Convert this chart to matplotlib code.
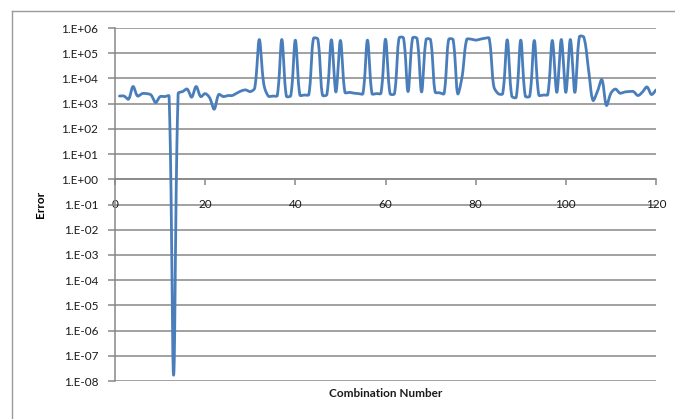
import numpy as np
import matplotlib
matplotlib.use("Agg")
import matplotlib.pyplot as plt
from matplotlib.lines import Line2D

# Error of each combination (combination numbers 1..120)
combination = list(range(1, 121))
error = [
    2000, 2000, 1500, 4800, 2000, 2500, 2500, 2200, 1100, 1900,
    1900, 2000, 1.7e-8, 2500, 3000, 3800, 1800, 4800, 1900, 2500,
    1700, 600, 2300, 1900, 2100, 2100, 2600, 3200, 3500, 3000,
    4200, 3.5e5, 6000, 2000, 2000, 2100, 3.5e5, 2000, 2100, 3.3e5,
    2200, 2200, 2300, 3.8e5, 3.6e5, 2200, 2300, 3.4e5, 2900, 3.2e5,
    2800, 2800, 2600, 2500, 2500, 3.3e5, 2500, 2500, 2600, 3.6e5,
    2500, 2500, 4.0e5, 4.0e5, 3000, 4.0e5, 3.8e5, 2900, 3.5e5, 3.4e5,
    2900, 2700, 2500, 3.5e5, 3.4e5, 2500, 1.2e4, 3.5e5, 3.6e5, 3.3e5,
    3.6e5, 3.9e5, 3.9e5, 5000, 2500, 2500, 3.4e5, 2000, 1800, 3.3e5,
    2000, 2000, 3.2e5, 2200, 2200, 2300, 3.2e5, 2800, 3.5e5, 2800,
    3.5e5, 2800, 4.5e5, 4.3e5, 2.5e4, 1350, 3000, 9000, 850, 2600,
    3800, 2600, 2900, 3000, 3000, 2100, 2900, 4600, 2300, 3500,
]

x_ticks = [0, 20, 40, 60, 80, 100, 120]
y_ticks = [1e-8, 1e-7, 1e-6, 1e-5, 1e-4, 1e-3, 1e-2, 1e-1,
           1e0, 1e1, 1e2, 1e3, 1e4, 1e5, 1e6]
y_tick_labels = ["1.E-08", "1.E-07", "1.E-06", "1.E-05", "1.E-04", "1.E-03",
                 "1.E-02", "1.E-01", "1.E+00", "1.E+01", "1.E+02", "1.E+03",
                 "1.E+04", "1.E+05", "1.E+06"]


def smooth_line(xs, ys, sx=4.5, sy=25.2, n_sub=24):
    """Bezier smoothing of a polyline, done in screen-like units so that
    control arms scale with the lengths of neighbouring segments."""
    P = np.column_stack([np.asarray(xs, float) * sx,
                         np.asarray(ys, float) * sy])
    n = len(P)
    seg = np.linalg.norm(np.diff(P, axis=0), axis=1)
    fwd = np.zeros_like(P)
    bwd = np.zeros_like(P)
    for i in range(n):
        prev_p = P[i - 1] if i > 0 else P[i]
        next_p = P[i + 1] if i < n - 1 else P[i]
        tang = next_p - prev_p
        d_prev = seg[i - 1] if i > 0 else 0.0
        d_next = seg[i] if i < n - 1 else 0.0
        tot = d_prev + d_next
        if tot == 0:
            continue
        fwd[i] = tang * d_next / tot / 3.0
        bwd[i] = tang * d_prev / tot / 3.0
    t = np.linspace(0, 1, n_sub, endpoint=False)[:, None]
    pts = []
    for i in range(n - 1):
        p0, p3 = P[i], P[i + 1]
        p1, p2 = p0 + fwd[i], p3 - bwd[i + 1]
        b = ((1 - t) ** 3 * p0 + 3 * (1 - t) ** 2 * t * p1
             + 3 * (1 - t) * t ** 2 * p2 + t ** 3 * p3)
        pts.append(b)
    pts.append(P[-1:])
    pts = np.vstack(pts)
    return pts[:, 0] / sx, pts[:, 1] / sy


plt.rcParams["font.family"] = ["Lato", "DejaVu Sans"]

fig = plt.figure(figsize=(6.75, 4.19), dpi=100)
fig.patch.set_facecolor("white")

# chart-area frame
frame_col = "#9a9a9a"
fig.add_artist(Line2D([12 / 675, 1.0], [1 - 11 / 419, 1 - 11 / 419],
                      transform=fig.transFigure, color=frame_col, lw=1.0))
fig.add_artist(Line2D([12 / 675, 12 / 675], [0.0, 1 - 11 / 419],
                      transform=fig.transFigure, color=frame_col, lw=1.0))

ax = fig.add_axes([115 / 675, 1 - 381 / 419, 541 / 675, 353 / 419])
ax.set_yscale("log")
ax.set_xlim(0, 120)
ax.set_ylim(1e-8, 1e6)

grid_col = "#878787"
for yv in y_ticks:
    ax.axhline(yv, color=grid_col, lw=1.1, zorder=1)

cx, cy = smooth_line(combination, np.log10(error))
ax.plot(cx, 10 ** cy, color="#4A7EBB", lw=2.0, zorder=3,
        solid_joinstyle="round", solid_capstyle="round")

for side in ("top", "right"):
    ax.spines[side].set_visible(False)
ax.spines["left"].set_color(grid_col)
ax.spines["left"].set_linewidth(1.1)
ax.spines["bottom"].set_position(("data", 1.0))
ax.spines["bottom"].set_color(grid_col)
ax.spines["bottom"].set_linewidth(1.1)

ax.set_yticks(y_ticks)
ax.set_yticklabels(y_tick_labels)
ax.yaxis.set_minor_locator(matplotlib.ticker.NullLocator())
ax.set_xticks(x_ticks)
ax.set_xticklabels([str(v) for v in x_ticks])

ax.tick_params(axis="y", direction="out", length=5, width=1.1,
               color=grid_col, pad=7, labelsize=8.5, labelcolor="#1a1a1a")
ax.tick_params(axis="x", direction="out", length=4, width=1.1,
               color=grid_col, pad=10, labelsize=8.5, labelcolor="#1a1a1a")

ax.set_ylabel("Error", fontsize=8.5, fontweight="bold")
ax.yaxis.set_label_coords(-0.127, 0.5)
fig.text(385.5 / 675, 1 - 393 / 419, "Combination Number", ha="center",
         va="center", fontsize=8.5, fontweight="bold", color="#1a1a1a")

fig.savefig("out.png", dpi=100, facecolor="white")
